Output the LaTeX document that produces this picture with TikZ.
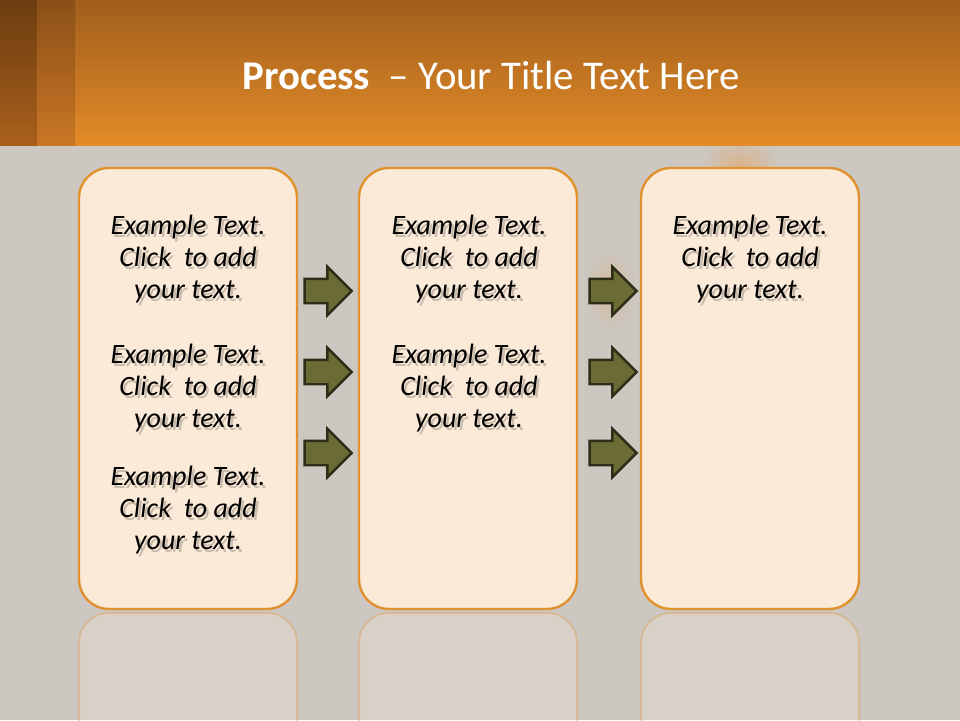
\documentclass[tikz,border=0pt]{standalone}
\usepackage{fontspec}
\setmainfont{Carlito}
\usetikzlibrary{shapes.arrows}
\definecolor{bggray}{HTML}{CCC7C1}
\definecolor{hdtop}{HTML}{A05E1B}
\definecolor{hdbot}{HTML}{E38B28}
\definecolor{s1top}{HTML}{6C3D10}
\definecolor{s1bot}{HTML}{A95F1C}
\definecolor{s2top}{HTML}{8A4F17}
\definecolor{s2bot}{HTML}{C97624}
\definecolor{boxfill}{HTML}{FBEAD7}
\definecolor{boxedge}{HTML}{E0922F}
\definecolor{arrfill}{HTML}{6B6B36}
\definecolor{arredge}{HTML}{2E2D18}
\tikzset{
  x=1pt, y=-1pt,
  stagebox/.style={draw=boxedge, fill=boxfill, line width=2.4pt, rounded corners=30pt},
  reflbox/.style={draw=boxedge, fill=boxfill, line width=2pt, rounded corners=30pt, draw opacity=0.3, fill opacity=0.28},
  bodytext/.style={font=\fontsize{28}{32}\selectfont\itshape, align=center, inner sep=0pt, text=black},
  shadowtext/.style={bodytext, text=black, opacity=0.2},
  flowarrow/.style={single arrow, draw=arredge, fill=arrfill, line width=2.4pt,
    minimum height=47pt, inner xsep=0pt, inner ysep=11pt, single arrow head extend=12pt,
    single arrow head indent=0pt},
}
\begin{document}
\begin{tikzpicture}
\useasboundingbox (0,0) rectangle (960,720);
% background
\fill[bggray] (0,0) rectangle (960,720);
\shade[inner color=orange!70!bggray, outer color=bggray, opacity=0.45] (740,170) ellipse (40pt and 35pt);
\shade[inner color=orange!50!bggray, outer color=bggray, opacity=0.4] (610,290) ellipse (25pt and 40pt);
% header
\shade[top color=hdtop, bottom color=hdbot] (0,0) rectangle (960,145);
\shade[top color=s1top, bottom color=s1bot] (0,0) rectangle (37,145);
\shade[top color=s2top, bottom color=s2bot] (37,0) rectangle (75,145);
\node[text=white, font=\fontsize{40.8}{48}\selectfont, inner sep=0pt] (title) at (491,75)
  {\textbf{Process} \ – Your Title Text Here};
% reflections
\begin{scope}
\clip (0,611) rectangle (960,720);
\path[reflbox] (79,613) rectangle (297,1050);
\path[reflbox] (359,613) rectangle (577,1050);
\path[reflbox] (641,613) rectangle (859,1050);
\end{scope}
% boxes
\node[stagebox, minimum width=218pt, minimum height=441pt, inner sep=0pt] (b1) at (188,388.5) {};
\node[stagebox, minimum width=218pt, minimum height=441pt, inner sep=0pt] (b2) at (468,388.5) {};
\node[stagebox, minimum width=218pt, minimum height=441pt, inner sep=0pt] (b3) at (750,388.5) {};
% texts
\def\ex{Example Text.\\Click \ to add\\your text.}
\foreach \n/\x/\y in {t11/188/259, t12/188/388, t13/188/510, t21/469/259, t22/469/388, t31/750/259}{
  \node[shadowtext] (\n s) at (\x+2.5,\y+3.5) {\ex};
  \node[bodytext] (\n) at (\x,\y) {\ex};
}
% arrows
\foreach \n/\x/\y in {a1/322/291, a2/322/372, a3/322/453, a4/607/291, a5/607/372, a6/607/453}{
  \node[flowarrow] (\n) at (\x,\y) {};
}
\end{tikzpicture}
\end{document}
